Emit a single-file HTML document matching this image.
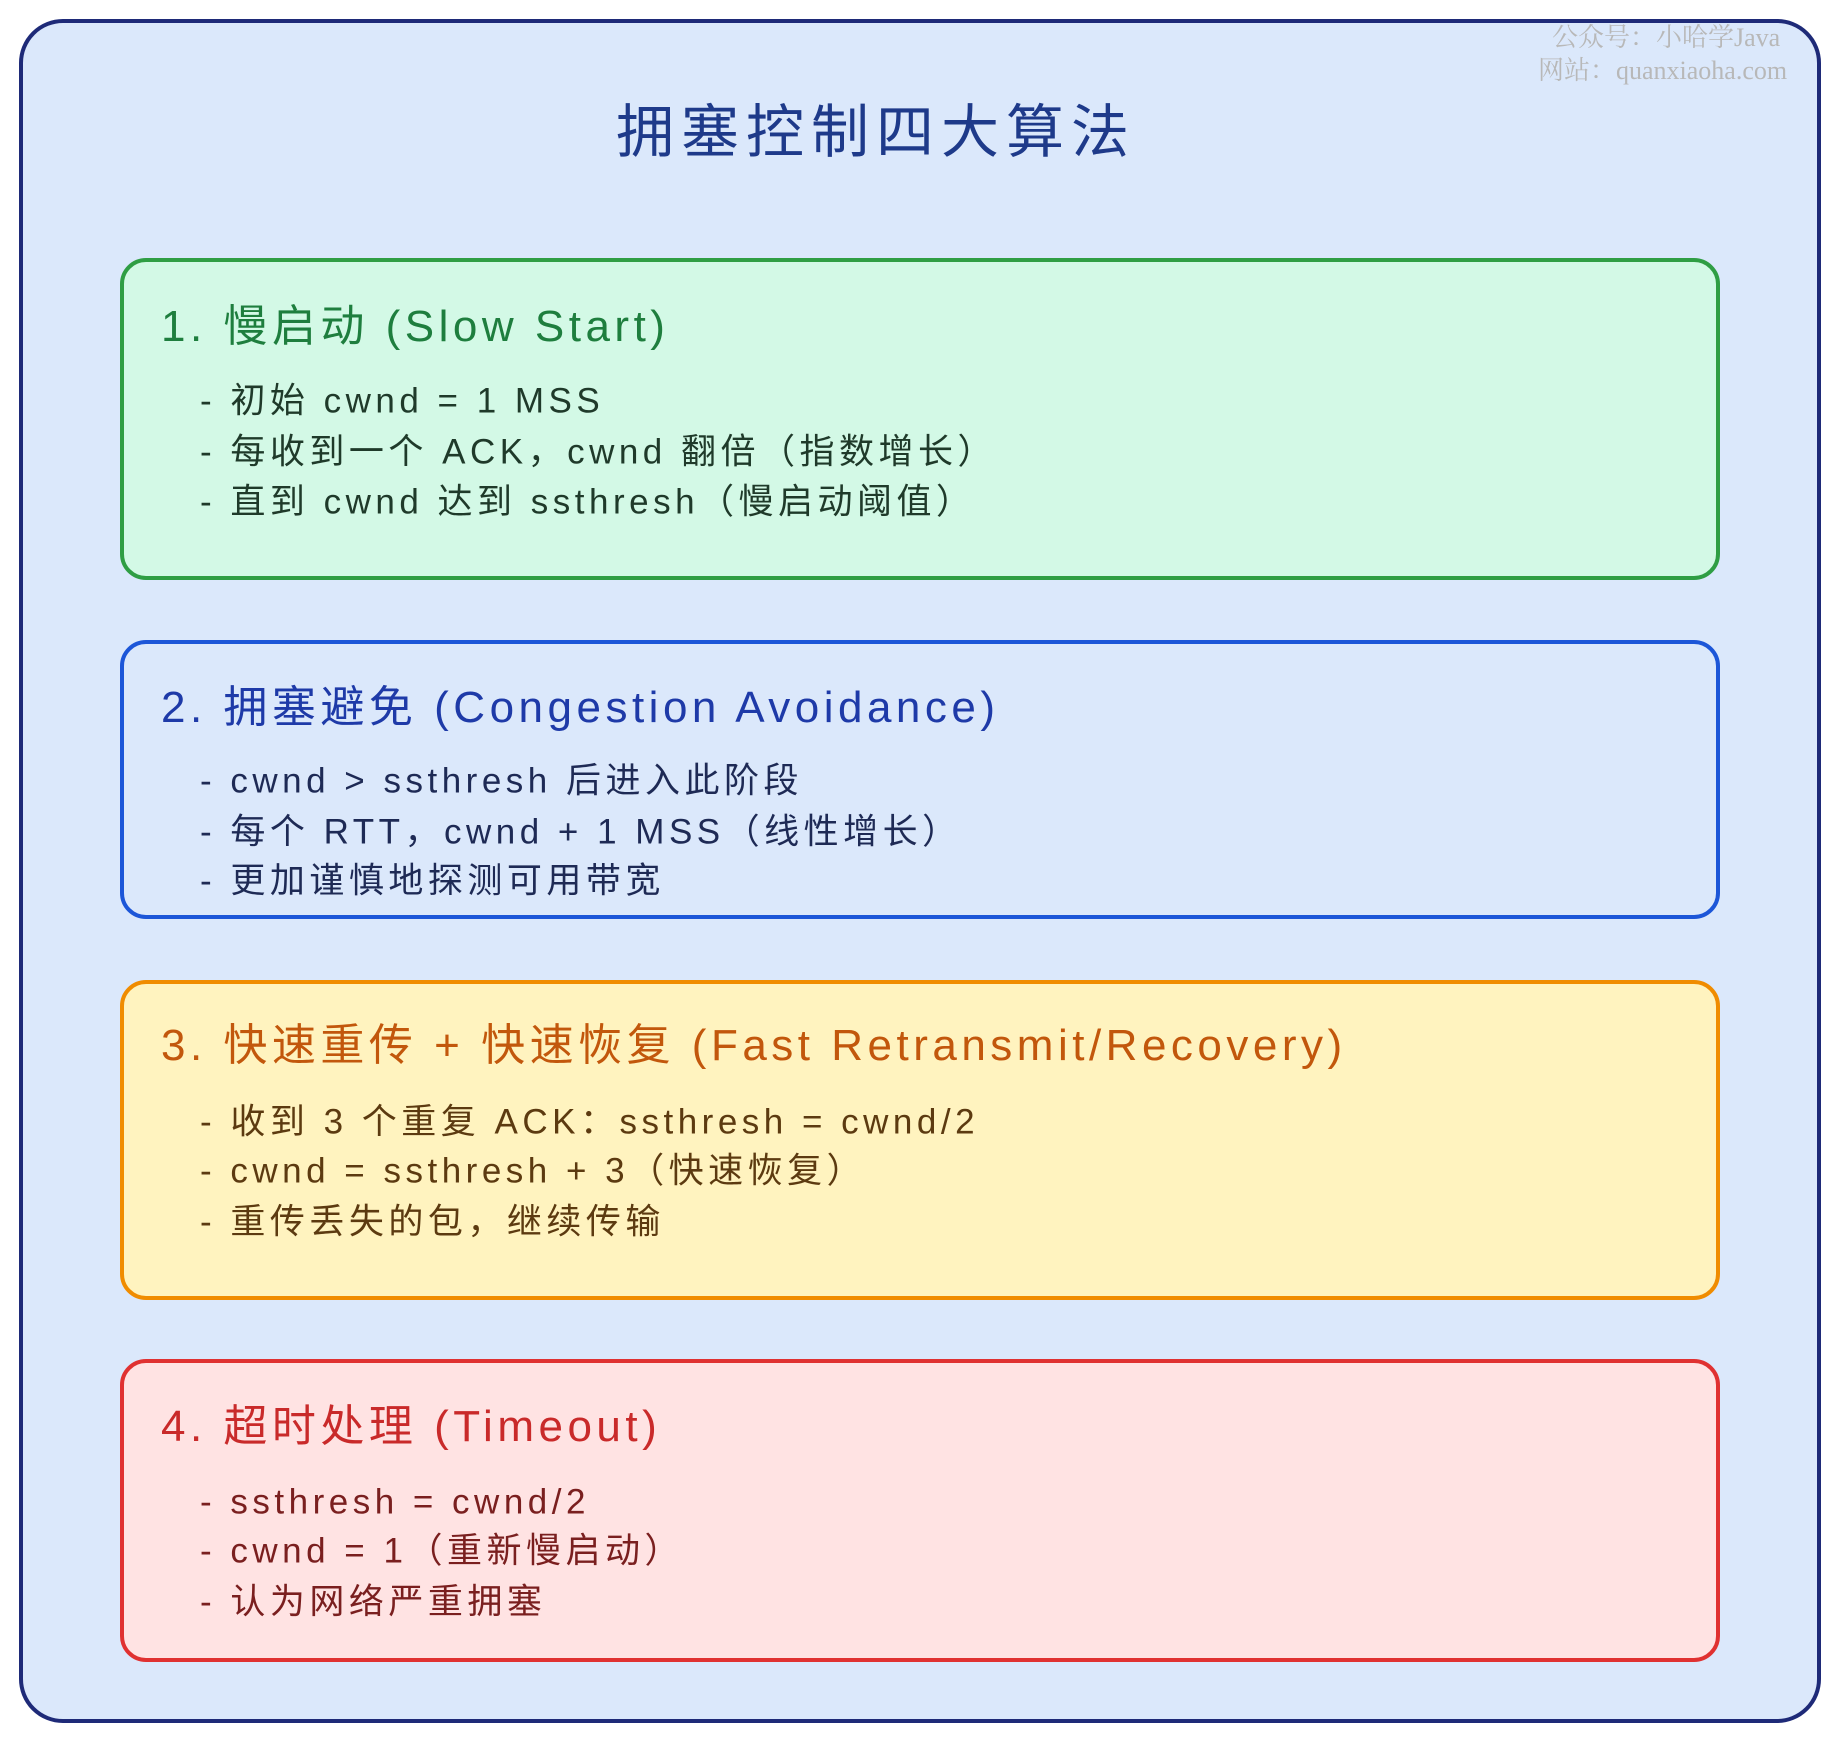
<!DOCTYPE html>
<html><head><meta charset="utf-8"><style>
html,body{margin:0;padding:0;background:#fff;}
body{width:1840px;height:1740px;position:relative;overflow:hidden;font-family:"Liberation Sans","Noto Sans CJK SC",sans-serif;}
.box{position:absolute;box-sizing:border-box;border-radius:26px;border:4px solid;}
.t{position:absolute;white-space:nowrap;line-height:1;transform:translateY(-50%);}
.h{font-size:44px;left:161px;letter-spacing:4.5px;}
.l{font-size:35px;left:200px;letter-spacing:4.5px;}
</style></head><body>
<div class="box" style="left:19px;top:19px;width:1802px;height:1704px;background:#dbe8fb;border-color:#1e2a78;border-radius:44px;"></div>
<div class="t" style="left:1552px;top:38px;font-size:26px;color:#b8b8b8;font-family:'Liberation Serif','Noto Serif CJK SC',serif;">公众号：小哈学Java</div>
<div class="t" style="left:1538px;top:71px;font-size:26px;color:#b8b8b8;font-family:'Liberation Serif','Noto Serif CJK SC',serif;">网站：quanxiaoha.com</div>
<div class="t" style="left:0;width:1752px;text-align:center;top:133px;font-size:58px;color:#1e3a8a;letter-spacing:7px;">拥塞控制四大算法</div>

<div class="box" style="left:120px;top:258px;width:1600px;height:322px;background:#d3f9e6;border-color:#2f9e44;"></div>
<div class="t h" style="top:327px;color:#1e7e3e;">1. 慢启动 (Slow Start)</div>
<div class="t l" style="top:401px;color:#1f3a2a;">- 初始 cwnd = 1 MSS</div>
<div class="t l" style="top:452px;color:#1f3a2a;">- 每收到一个 ACK，cwnd 翻倍（指数增长）</div>
<div class="t l" style="top:502px;color:#1f3a2a;">- 直到 cwnd 达到 ssthresh（慢启动阈值）</div>

<div class="box" style="left:120px;top:640px;width:1600px;height:279px;background:#dbe8fb;border-color:#1c56d8;"></div>
<div class="t h" style="top:708px;color:#1e3aa8;">2. 拥塞避免 (Congestion Avoidance)</div>
<div class="t l" style="top:781px;color:#1e2a55;">- cwnd &gt; ssthresh 后进入此阶段</div>
<div class="t l" style="top:832px;color:#1e2a55;">- 每个 RTT，cwnd + 1 MSS（线性增长）</div>
<div class="t l" style="top:881px;color:#1e2a55;">- 更加谨慎地探测可用带宽</div>

<div class="box" style="left:120px;top:980px;width:1600px;height:320px;background:#fff3bf;border-color:#f08c00;"></div>
<div class="t h" style="top:1046px;color:#c2570c;">3. 快速重传 + 快速恢复 (Fast Retransmit/Recovery)</div>
<div class="t l" style="top:1122px;color:#5c3a10;">- 收到 3 个重复 ACK：ssthresh = cwnd/2</div>
<div class="t l" style="top:1171px;color:#5c3a10;">- cwnd = ssthresh + 3（快速恢复）</div>
<div class="t l" style="top:1222px;color:#5c3a10;">- 重传丢失的包，继续传输</div>

<div class="box" style="left:120px;top:1359px;width:1600px;height:303px;background:#ffe3e3;border-color:#e03131;"></div>
<div class="t h" style="top:1427px;color:#c92a2a;">4. 超时处理 (Timeout)</div>
<div class="t l" style="top:1502px;color:#7a1f1f;">- ssthresh = cwnd/2</div>
<div class="t l" style="top:1551px;color:#7a1f1f;">- cwnd = 1（重新慢启动）</div>
<div class="t l" style="top:1602px;color:#7a1f1f;">- 认为网络严重拥塞</div>
</body></html>
